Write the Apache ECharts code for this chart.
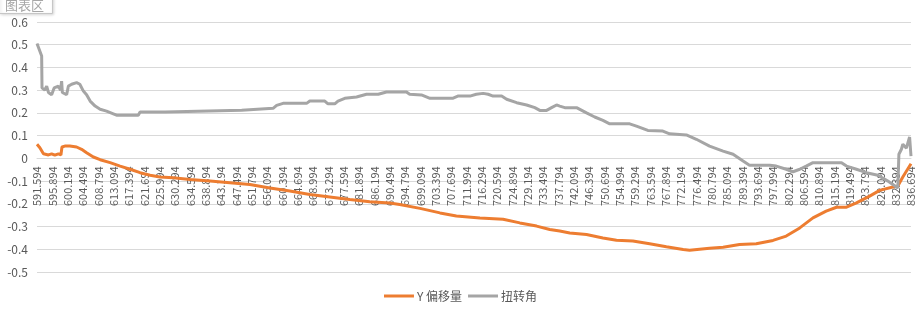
<!DOCTYPE html>
<html>
<head>
<meta charset="utf-8">
<title>Y 偏移量 / 扭转角</title>
<script src="https://cdn.jsdelivr.net/npm/echarts@6/dist/echarts.min.js"></script>
<style>
  html, body { margin: 0; padding: 0; background: #fff; }
  #chart { width: 921px; height: 309px; }
</style>
</head>
<body>
<div id="chart"></div>
<script>
  // 横轴刻度标签
  const xTicks = [
    591.594, 595.894, 600.194, 604.494, 608.794, 613.094, 617.394, 621.694, 625.994, 630.294,
    634.594, 638.894, 643.194, 647.494, 651.794, 656.094, 660.394, 664.694, 668.994, 673.294,
    677.594, 681.894, 686.194, 690.494, 694.794, 699.094, 703.394, 707.694, 711.994, 716.294,
    720.594, 724.894, 729.194, 733.494, 737.794, 742.094, 746.394, 750.694, 754.994, 759.294,
    763.594, 767.894, 772.194, 776.494, 780.794, 785.094, 789.394, 793.694, 797.994, 802.294,
    806.594, 810.894, 815.194, 819.494, 823.794, 828.094, 832.394, 836.694,
  ];

  // Y 偏移量
  const offsetX = [
    591.594, 592.4, 593.4, 594.8, 595.7, 596.6, 597.6, 598.3, 598.6, 599.4,
    600.8, 602.7, 604.1, 605.5, 607.4, 609.3, 612.1, 614.9, 617.7, 620.5,
    623.3, 626.1, 629.8, 634.5, 640.1, 645.7, 651.3, 656.9, 662.5, 668.1,
    673.7, 679.3, 684.9, 690.5, 693.3, 699.0, 704.6, 709.2, 715.8, 722.3,
    727.0, 731.7, 735.4, 738.2, 741.0, 745.7, 750.3, 754.1, 758.7, 763.4,
    768.1, 772.8, 774.6, 780.2, 784.0, 788.6, 793.3, 798.0, 801.7, 805.5,
    809.2, 812.9, 815.8, 818.6, 821.4, 825.1, 827.9, 831.6, 833.0, 834.4,
    836.694,
  ];
  const offsetY = [
    0.062, 0.047, 0.02, 0.015, 0.02, 0.014, 0.02, 0.015, 0.05, 0.054,
    0.054, 0.05, 0.04, 0.025, 0.006, -0.006, -0.019, -0.034, -0.048, -0.063,
    -0.074, -0.082, -0.085, -0.093, -0.1, -0.107, -0.115, -0.13, -0.144, -0.159,
    -0.17, -0.181, -0.191, -0.196, -0.203, -0.22, -0.24, -0.254, -0.262, -0.268,
    -0.284, -0.298, -0.313, -0.32, -0.328, -0.335, -0.35, -0.36, -0.364, -0.376,
    -0.389, -0.401, -0.404, -0.396, -0.391, -0.379, -0.376, -0.361, -0.342, -0.306,
    -0.262, -0.232, -0.215, -0.215, -0.196, -0.166, -0.141, -0.126, -0.122, -0.082,
    -0.024,
  ];

  // 扭转角
  const twistX = [
    591.594, 592.9, 593.0, 593.8, 594.3, 594.8, 595.7, 596.4, 597.6, 598.2,
    598.5, 598.7, 599.9, 600.4, 601.3, 602.7, 603.6, 604.6, 605.5, 606.5,
    607.9, 609.3, 611.1, 613.0, 613.9, 620.0, 620.5, 627.5, 627.9, 649.0,
    649.4, 657.8, 658.8, 660.6, 667.2, 668.1, 672.3, 673.2, 675.1, 676.0,
    677.9, 681.2, 684.0, 687.3, 689.6, 695.2, 696.1, 699.4, 701.8, 708.3,
    709.6, 713.0, 714.8, 716.7, 718.1, 719.5, 721.9, 723.3, 726.1, 728.9,
    731.2, 732.6, 734.5, 735.9, 737.3, 738.2, 739.6, 742.9, 745.7, 748.0,
    750.3, 752.2, 757.8, 759.7, 762.9, 767.1, 769.0, 773.7, 776.5, 780.2,
    784.0, 786.8, 789.6, 791.4, 797.1, 798.9, 801.7, 803.6, 805.5, 807.3,
    809.2, 817.2, 818.6, 821.4, 824.2, 827.4, 830.2, 831.6, 833.0, 833.3,
    834.0, 834.4, 835.4, 836.3, 836.694,
  ];
  const twistAngle = [
    0.505, 0.45, 0.31, 0.30, 0.318, 0.29, 0.28, 0.31, 0.318, 0.30,
    0.34, 0.29, 0.28, 0.318, 0.326, 0.333, 0.326, 0.296, 0.28, 0.252,
    0.23, 0.216, 0.208, 0.196, 0.19, 0.19, 0.204, 0.204, 0.212, 0.212,
    0.22, 0.22, 0.233, 0.242, 0.242, 0.252, 0.252, 0.24, 0.24, 0.252,
    0.264, 0.27, 0.282, 0.282, 0.292, 0.292, 0.282, 0.279, 0.264, 0.265,
    0.274, 0.274, 0.282, 0.286, 0.282, 0.274, 0.274, 0.26, 0.245, 0.235,
    0.223, 0.211, 0.211, 0.223, 0.235, 0.23, 0.223, 0.223, 0.2, 0.182,
    0.167, 0.152, 0.152, 0.142, 0.123, 0.12, 0.108, 0.103, 0.084, 0.054,
    0.032, 0.018, -0.012, -0.03, -0.03, -0.034, -0.048, -0.059, -0.048, -0.034,
    -0.019, -0.019, -0.034, -0.048, -0.063, -0.074, -0.1, -0.115, -0.13, 0.018,
    0.04, 0.062, 0.045, 0.094, 0.01,
  ];

  const seriesNames = ['Y 偏移量', '扭转角'];
  const seriesColors = ['#ED7D31', '#A5A5A5'];

  const fontFamily = '"Noto Sans CJK SC", "Microsoft YaHei", sans-serif';

  // 绘图区位置
  const gridTop = 22;
  const gridBottom = 37;
  const yMin = -0.5;
  const yMax = 0.6;
  const gridHeight = 309 - gridTop - gridBottom;
  // 横轴放在 0 刻度处（标签跟随）
  const xAxisOffset = -((0 - yMin) / (yMax - yMin)) * gridHeight;

  const chartInstance = echarts.init(document.getElementById('chart'));

  const option = {
    animation: false,
    textStyle: { fontFamily },
    // 悬停提示框“图表区”
    title: {
      text: '图表区',
      left: -1,
      top: -5,
      padding: [4, 9, 2, 6],
      backgroundColor: '#fff',
      borderColor: '#c6c6c6',
      borderWidth: 1,
      shadowColor: 'rgba(0,0,0,0.15)',
      shadowBlur: 3,
      shadowOffsetX: 1,
      shadowOffsetY: 1,
      textStyle: {
        fontSize: 13,
        fontWeight: 'normal',
        color: '#a6a6a6',
        fontFamily,
      },
    },
    legend: {
      data: seriesNames,
      bottom: 2,
      left: 'center',
      icon: 'rect',
      itemWidth: 30,
      itemHeight: 3,
      itemGap: 6,
      textStyle: {
        fontSize: 12,
        color: '#595959',
        fontFamily,
        padding: [0, 0, 0, -2],
      },
    },
    grid: {
      left: 37,
      right: 10,
      top: gridTop,
      bottom: gridBottom,
    },
    xAxis: {
      type: 'value',
      min: xTicks[0],
      max: xTicks[xTicks.length - 1],
      position: 'bottom',
      offset: xAxisOffset,
      axisLine: {
        onZero: false,
        lineStyle: { color: '#d9d9d9', width: 1 },
      },
      axisTick: { show: false },
      splitLine: { show: false },
      axisLabel: {
        customValues: xTicks,
        rotate: 90,
        margin: 8,
        fontSize: 11,
        color: '#595959',
        fontFamily,
        formatter: (v) => Number(v).toFixed(3),
      },
    },
    yAxis: {
      type: 'value',
      min: yMin,
      max: yMax,
      interval: 0.1,
      axisLine: { show: false },
      axisTick: { show: false },
      splitLine: {
        lineStyle: { color: '#d9d9d9', width: 1 },
      },
      axisLabel: {
        margin: 9,
        fontSize: 12,
        color: '#595959',
        fontFamily,
        formatter: (v) => (Math.abs(v) < 1e-9 ? '0' : v.toFixed(1)),
      },
    },
    series: [
      {
        name: seriesNames[0],
        type: 'line',
        data: offsetX.map((x, i) => [x, offsetY[i]]),
        showSymbol: false,
        symbol: 'none',
        lineStyle: { width: 3, color: seriesColors[0] },
        itemStyle: { color: seriesColors[0] },
      },
      {
        name: seriesNames[1],
        type: 'line',
        data: twistX.map((x, i) => [x, twistAngle[i]]),
        showSymbol: false,
        symbol: 'none',
        lineStyle: { width: 3, color: seriesColors[1] },
        itemStyle: { color: seriesColors[1] },
      },
    ],
  };

  chartInstance.setOption(option);
</script>
</body>
</html>
